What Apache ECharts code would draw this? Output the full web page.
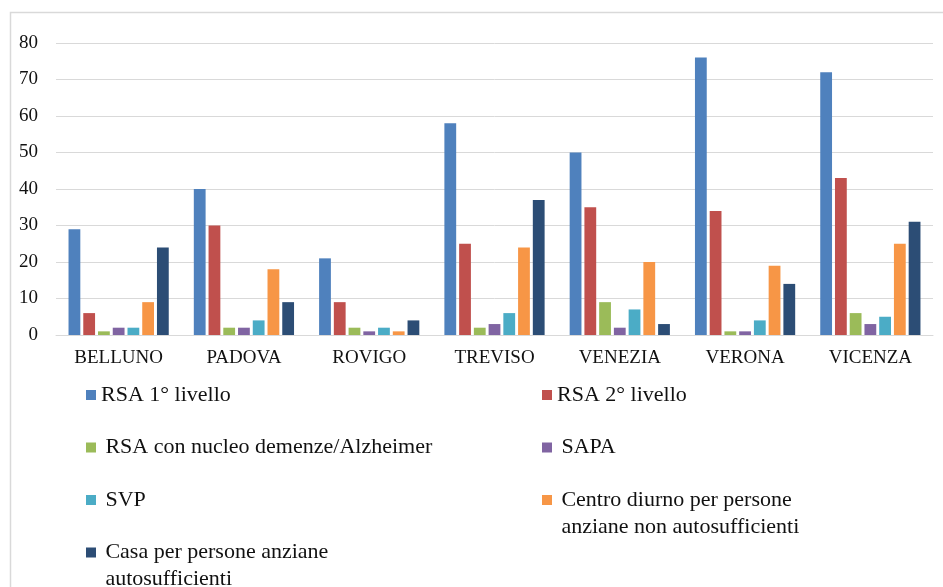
<!DOCTYPE html>
<html>
<head>
<meta charset="utf-8">
<script src="https://cdn.jsdelivr.net/npm/echarts@6/dist/echarts.min.js"></script>
<style>
  html, body { margin: 0; padding: 0; background: #fff; }
  #main { width: 943px; height: 587px; }
</style>
</head>
<body>
<div id="main"></div>
<script>
// province
var citta = ['BELLUNO', 'PADOVA', 'ROVIGO', 'TREVISO', 'VENEZIA', 'VERONA', 'VICENZA'];

// tipologie di struttura (ordine della legenda)
var tipologie = [
  'RSA 1° livello',
  'RSA 2° livello',
  'RSA con nucleo demenze/Alzheimer',
  'SAPA',
  'SVP',
  'Centro diurno per persone anziane non autosufficienti',
  'Casa per persone anziane autosufficienti'
];

// valori per provincia
var rsa1 = [29, 40, 21, 58, 50, 76, 72];
var rsa2 = [6, 30, 9, 25, 35, 34, 43];
var alzheimer = [1, 2, 2, 2, 9, 1, 6];
var sapa = [2, 2, 1, 3, 2, 1, 3];
var svp = [2, 4, 2, 6, 7, 4, 5];
var centroDiurno = [9, 18, 1, 24, 20, 19, 25];
var casaAuto = [24, 9, 4, 37, 3, 14, 31];

var valori = [rsa1, rsa2, alzheimer, sapa, svp, centroDiurno, casaAuto];
var colori = ['#4F81BD', '#C0504D', '#9BBB59', '#8064A2', '#4BACC6', '#F79646', '#2C4D75'];

// testo della legenda su piu' righe
var etichette = {
  'Centro diurno per persone anziane non autosufficienti': 'Centro diurno per persone\nanziane non autosufficienti',
  'Casa per persone anziane autosufficienti': 'Casa per persone anziane\nautosufficienti'
};

var font = 'Liberation Serif';

var series = [];
for (var i = 0; i < tipologie.length; i++) {
  series.push({
    name: tipologie[i],
    type: 'bar',
    data: valori[i],
    barGap: '25%',
    barCategoryGap: '20%',
    itemStyle: { color: colori[i] }
  });
}

// una legenda per voce, su due colonne
var legende = [];
for (var j = 0; j < tipologie.length; j++) {
  var col = j % 2;
  var riga = Math.floor(j / 2);
  var centro = 395 + riga * 52.5;
  var dueRighe = !!etichette[tipologie[j]];
  legende.push({
    data: [tipologie[j]],
    left: col ? 542 : 86,
    top: dueRighe ? centro - 40.5 : centro - 13.5,
    padding: 0,
    icon: 'rect',
    itemWidth: 10,
    itemHeight: 10,
    selectedMode: false,
    formatter: function (name) {
      var testo = etichette[name] || name;
      // nel grafico originale le voci dopo la prima riga hanno uno spazio iniziale
      if (tipologie.indexOf(name) > 1) testo = testo.replace(/^/gm, '\u2009');
      return etichette[name] ? '\n' + testo : testo;
    },
    textStyle: {
      fontFamily: font,
      fontSize: 22,
      lineHeight: 27,
      color: '#111'
    }
  });
}

var myChart = echarts.init(document.getElementById('main'));
var option = {
  animation: false,
  backgroundColor: '#fff',
  graphic: [{
    type: 'rect',
    left: 8,
    top: 10,
    shape: { width: 1000, height: 700 },
    style: { fill: 'none', stroke: '#D9D9D9', lineWidth: 1.5 },
    silent: true,
    z: -1
  }],
  legend: legende,
  grid: {
    left: 56,
    right: 10,
    top: 43,
    bottom: 252,
    containLabel: false
  },
  xAxis: {
    type: 'category',
    data: citta,
    axisTick: { show: false },
    axisLine: { lineStyle: { color: '#D9D9D9', width: 1 } },
    axisLabel: {
      margin: 14,
      fontFamily: font,
      fontSize: 19,
      color: '#111'
    }
  },
  yAxis: {
    type: 'value',
    min: 0,
    max: 80,
    interval: 10,
    axisLine: { show: false },
    axisTick: { show: false },
    splitLine: { lineStyle: { color: '#D9D9D9', width: 1 } },
    axisLabel: {
      margin: 18,
      fontFamily: font,
      fontSize: 19,
      color: '#111'
    }
  },
  series: series
};
myChart.setOption(option);
</script>
</body>
</html>
